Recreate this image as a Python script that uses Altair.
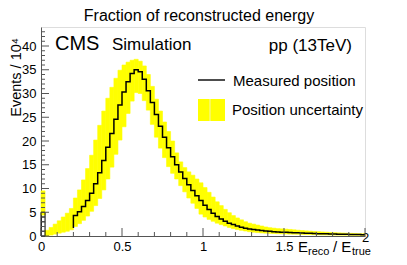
import altair as alt
import pandas as pd

FONT = "Liberation Sans"
BIN = 0.025

# ---- data ----
measured_start = 0.2
measured_entry = 1.7
measured = [4.3, 5.1, 6.2, 7.5, 9.0, 11.0, 13.3, 15.9, 18.7, 21.6, 24.6, 27.6, 30.3, 32.5, 34.2, 35.0,
            34.6, 33.0, 30.6, 28.1, 25.6, 23.1, 20.8, 18.6, 16.7, 15.0, 13.5, 12.1, 10.8, 9.6, 8.5, 7.5,
            6.5, 5.6, 4.8, 4.1, 3.6, 3.1, 2.7, 2.4, 2.1, 1.85, 1.65, 1.5, 1.35, 1.25, 1.15, 1.05,
            0.98, 0.92, 0.86, 0.81, 0.77, 0.73, 0.69, 0.66, 0.62, 0.59, 0.56, 0.53, 0.5, 0.48,
            0.45, 0.43, 0.41, 0.39, 0.37, 0.35, 0.33, 0.31, 0.29, 0.27]

band_lower = [4.4,
              0.0, 0.2, 0.4, 0.6, 0.8, 1.0, 1.3,
              2.0, 2.6, 3.3, 4.2, 5.2, 6.4, 7.9, 9.7, 12.0, 14.5, 17.2, 20.2, 23.0, 25.8, 28.4, 30.2,
              30.0, 28.5, 26.5, 23.5, 20.8, 18.5, 16.5, 14.6, 13.2, 12.0, 10.6, 9.3, 8.0, 6.9, 5.8, 4.6,
              4.0, 3.5, 3.1, 2.7, 2.4, 2.1, 1.8, 1.55, 1.35, 1.2, 1.05, 0.9, 0.8, 0.72, 0.65, 0.6,
              0.56, 0.52, 0.49, 0.46, 0.43, 0.4, 0.38, 0.36, 0.34, 0.32, 0.3, 0.28, 0.26, 0.24, 0.22, 0.21,
              0.2, 0.19, 0.18, 0.17, 0.16, 0.15, 0.14, 0.13]

band_upper = [9.5,
              1.2, 1.8, 2.5, 3.2, 4.0, 4.8, 5.8,
              8.0, 9.7, 11.8, 14.2, 17.0, 20.2, 23.3, 26.3, 29.0, 31.3, 33.2, 34.9, 36.0, 36.6, 37.0, 37.2,
              36.8, 35.8, 34.0, 31.5, 28.8, 26.3, 24.0, 22.0, 20.0, 17.5, 15.6, 14.4, 13.5, 12.8, 12.0, 11.2,
              10.2, 9.2, 8.2, 7.2, 6.4, 5.6, 4.9, 4.3, 3.8, 3.4, 3.0, 2.7, 2.5, 2.3, 2.1, 1.9,
              1.75, 1.65, 1.55, 1.5, 1.45, 1.38, 1.3, 1.22, 1.15, 1.08, 1.02, 0.96, 0.9, 0.85, 0.8, 0.75,
              0.7, 0.66, 0.62, 0.58, 0.55, 0.52, 0.49, 0.46]

spike_value = 5.0
spike_rungs = [1, 2, 3, 4]

x_major = [0, 0.5, 1, 1.5, 2]
x_minor = [0.1, 0.2, 0.3, 0.4, 0.6, 0.7, 0.8, 0.9, 1.1, 1.2, 1.3, 1.4, 1.6, 1.7, 1.8, 1.9]
y_major = [0, 5, 10, 15, 20, 25, 30, 35, 40]
y_minor = [v for v in range(1, 44) if v % 5 != 0]

W, H = 324, 209
XDOM, YDOM = [0, 2], [0, 44]

# ---- tables ----
band_df = pd.DataFrame({
    "x0": [i * BIN for i in range(len(band_lower))],
    "x1": [(i + 1) * BIN for i in range(len(band_lower))],
    "lo": band_lower, "hi": band_upper,
})
edges = [measured_start + i * BIN for i in range(len(measured))]
line_df = pd.DataFrame({
    "x0": [measured_start] + edges + [measured_start + len(measured) * BIN],
    "v": [measured_entry] + measured + [measured[-1]],
    "o": list(range(len(measured) + 2)),
})
spike_df = pd.DataFrame({"x0": [0.0], "x1": [BIN], "lo": [0.0], "hi": [spike_value]})
rung_df = pd.DataFrame({"x0": [0.0] * len(spike_rungs), "x1": [BIN] * len(spike_rungs), "v": spike_rungs})

xs = alt.Scale(domain=XDOM, nice=False, zero=False)
ys = alt.Scale(domain=YDOM, nice=False, zero=False)
xaxis = alt.Axis(values=x_major, format="~g", ticks=False, grid=False, domainColor="#555",
                 labelFont=FONT, labelFontSize=13, labelColor="black",
                 labelPadding={"condition": {"test": "datum.value == 2", "value": -5}, "value": 4},
                 labelFlush=False, labelOverlap=False, title=None)
yaxis = alt.Axis(values=y_major, format="d", ticks=False, grid=False, domainColor="#555",
                 labelFont=FONT, labelFontSize=13, labelColor="black", labelPadding=5,
                 labelFlush=False, labelOverlap=False, title=None)

def X(f):
    return alt.X(f, type="quantitative", scale=xs, axis=xaxis)

def Y(f):
    return alt.Y(f, type="quantitative", scale=ys, axis=yaxis)

band = alt.Chart(band_df).mark_rect(color="#ffff00", stroke="#ffff00", strokeWidth=0.6).encode(
    x=X("x0"), x2="x1", y=Y("lo"), y2="hi")

spike = alt.Chart(spike_df).mark_rect(fillOpacity=0, stroke="black", strokeWidth=1).encode(
    x=X("x0"), x2="x1", y=Y("lo"), y2="hi")

rungs = alt.Chart(rung_df).mark_rule(color="black", strokeWidth=1).encode(
    x=X("x0"), x2="x1", y=Y("v"))

line = alt.Chart(line_df).mark_line(color="black", strokeWidth=1.5, interpolate="step-after").encode(
    x=X("x0"), y=Y("v"), order="o:Q")

# inward ROOT-style ticks
ymaj = alt.Chart(pd.DataFrame({"v": y_major})).mark_rule(color="#555").encode(
    y=Y("v"), x=alt.value(0), x2=alt.value(8))
ymin = alt.Chart(pd.DataFrame({"v": y_minor})).mark_rule(color="#555").encode(
    y=Y("v"), x=alt.value(0), x2=alt.value(4))
xmaj = alt.Chart(pd.DataFrame({"v": x_major})).mark_rule(color="#555").encode(
    x=X("v"), y=alt.value(H), y2=alt.value(H - 8))
xmin = alt.Chart(pd.DataFrame({"v": x_minor})).mark_rule(color="#555").encode(
    x=X("v"), y=alt.value(H), y2=alt.value(H - 4))

one = pd.DataFrame({"a": [0]})

def txt(s, x, y, size, align="left", angle=0, weight="normal"):
    return alt.Chart(one).mark_text(text=s, align=align, baseline="alphabetic", font=FONT,
                                    fontSize=size, fontWeight=weight, angle=angle,
                                    color="black").encode(x=alt.value(x), y=alt.value(y))

texts = [
    txt("Fraction of reconstructed energy", 158, -6.5, 16, align="center"),
    txt("CMS", 14, 23, 20),
    txt("Simulation", 71, 22.5, 17),
    txt("pp (13TeV)", 311, 24, 17, align="right"),
    txt("Measured position", 192, 59, 15),
    txt("Position uncertainty", 191, 88, 15),
    txt("Events / 10\u2074", -20, 11, 14.5, align="right", angle=270),
    txt("E", 257, 224.5, 15),
    txt("reco", 267, 227.5, 11),
    txt("/ E", 292, 224.5, 15),
    txt("true", 311, 227.5, 11),
]

leg_line = alt.Chart(one).mark_rule(color="black", strokeWidth=1.4).encode(
    x=alt.value(157), x2=alt.value(184), y=alt.value(53))
leg_box = alt.Chart(one).mark_rect(color="#ffff00").encode(
    x=alt.value(157), x2=alt.value(184), y=alt.value(72), y2=alt.value(94))
leg_seam = alt.Chart(one).mark_rule(color="#f4f4b0", strokeWidth=1).encode(
    x=alt.value(169), y=alt.value(72), y2=alt.value(94))

chart = alt.layer(band, spike, rungs, line, ymaj, ymin, xmaj, xmin,
                  leg_line, leg_box, leg_seam, *texts).properties(
    width=W, height=H,
    autosize=alt.AutoSizeParams(type="none"),
    padding={"left": 33, "top": 19, "right": 34, "bottom": 21},
).configure_view(stroke="#777", strokeWidth=1).configure(background="white")

chart.save("out.html", embed_options={"renderer": "svg", "actions": False})
